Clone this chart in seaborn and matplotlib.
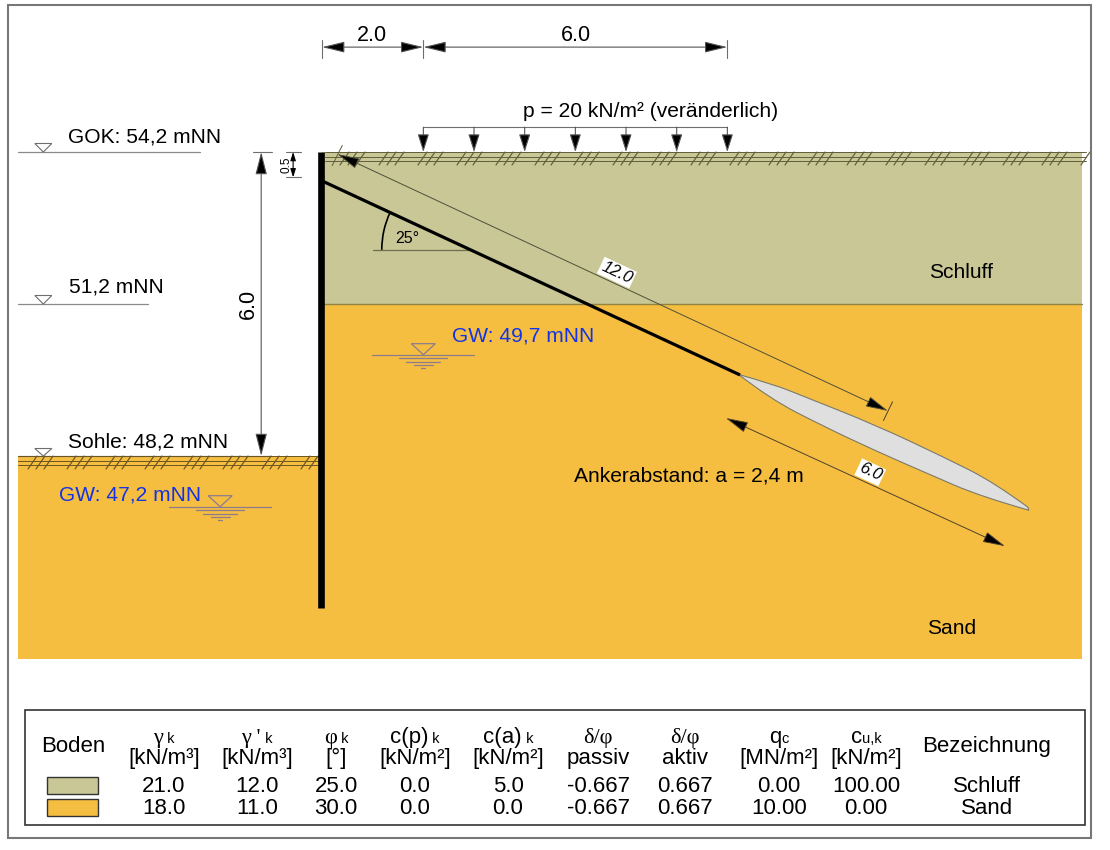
"""Spundwand mit Verpressanker: Systemskizze mit Bodenkennwerten."""

import matplotlib.pyplot as plt
import numpy as np
import seaborn as sns
from matplotlib.patches import Arc, PathPatch, Polygon, Rectangle
from matplotlib.path import Path

# Levels in mNN, distances in m from the wall
GOK = 54.2
MID_LEVEL = 51.2
SOHLE = 48.2
LAYER_TOP = 51.2
WALL_TIP = 45.2
MODEL_BOTTOM = 44.2
MODEL_LEFT = -6.0
MODEL_RIGHT = 15.0
GW_RIGHT_MARK = 50.2
GW_LEFT_MARK = 47.2

DIM_TOP = [0.0, 2.0, 8.0]
LOAD_X = [2.0, 3.0, 4.0, 5.0, 6.0, 7.0, 8.0]

# Anchor
ANCHOR_X = [0.0, 8.25]
ANCHOR_Y = [53.63, 49.80]
BODY_UPPER_X = [8.22, 8.90, 9.55, 10.93, 12.31, 13.28, 13.93]
BODY_UPPER_Y = [49.81, 49.62, 49.36, 48.81, 48.16, 47.67, 47.19]
BODY_LOWER_X = [13.95, 13.00, 11.96, 10.93, 9.89, 8.84, 8.22]
BODY_LOWER_Y = [47.13, 47.40, 47.85, 48.30, 48.79, 49.33, 49.81]
DIM_FREE_X = [0.30, 11.17]
DIM_FREE_Y = [54.16, 49.09]
DIM_BODY_X = [7.97, 13.48]
DIM_BODY_Y = [48.95, 46.42]

# Soil table
SOIL_NAMES = ["Schluff", "Sand"]
SOIL_COLORS = ["#C8C795", "#F6BE41"]
HEAD_SYMBOL = ["γ", "γ '", "φ", "c(p)", "c(a)", "δ/φ", "δ/φ", "q", "c"]
HEAD_SUB = [" k", " k", " k", " k", " k", "", "", "c", "u,k"]
HEAD_UNIT = ["[kN/m³]", "[kN/m³]", "[°]", "[kN/m²]", "[kN/m²]", "passiv", "aktiv", "[MN/m²]", "[kN/m²]"]
SCHLUFF_ROW = ["21.0", "12.0", "25.0", "0.0", "5.0", "-0.667", "0.667", "0.00", "100.00"]
SAND_ROW = ["18.0", "11.0", "30.0", "0.0", "0.0", "-0.667", "0.667", "10.00", "0.00"]
COLUMN_X = [164, 257, 336, 415, 508, 598, 685, 779, 866]

PX = 50.67  # pixels per metre
BLUE = "#1234E6"
GRAY = "#6E6E6E"
WATER = "#8C7C8C"
FS = 15.1
FS_TAB = 16

sns.set_theme(style="white")
plt.rcParams["font.family"] = ["Liberation Sans", "DejaVu Sans"]
plt.rcParams["text.color"] = "black"

fig = plt.figure(figsize=(11.1, 8.5), dpi=100)
ax = fig.add_axes([0, 0, 1, 1])
ax.set_xlim(-322 / PX, (1110 - 322) / PX)
ax.set_ylim(GOK - (850 - 152) / PX, GOK + 152 / PX)
ax.axis("off")

tab = fig.add_axes([0, 0, 1, 1], facecolor="none")
tab.set_xlim(0, 1110)
tab.set_ylim(850, 0)
tab.axis("off")


def line(xs, ys, color=GRAY, lw=0.8, zorder=3, **kwargs):
    sns.lineplot(x=xs, y=ys, ax=ax, color=color, linewidth=lw, estimator=None,
                 sort=False, legend=False, zorder=zorder, **kwargs)


def dim_arrow(xs, ys, style="<|-|>", length=14, half=3.4, lw=0.8, color="#555555"):
    ax.annotate("", xy=(xs[1], ys[1]), xytext=(xs[0], ys[0]), zorder=6,
                arrowprops=dict(arrowstyle=f"{style},head_length={length},head_width={half}",
                                mutation_scale=1, shrinkA=0, shrinkB=0, lw=lw,
                                edgecolor=color, facecolor="black"))


def ground(x0, x1, level, color, first):
    for off in (0, 4.5, 8.5):
        line([x0, x1], [level - off / PX] * 2, color=color, lw=0.7, zorder=4)
    for start in np.arange(first, x1, 39 / PX):
        for k in range(3):
            xb = start + k * 8 / PX
            xt = xb + 9 / PX
            if xb < x0 or xt > x1 + 0.08:
                continue
            ax.plot([xb, xt], [level - 13 / PX, level], color=color, lw=0.85, zorder=4)


def level_mark(x0, x1, level, xtri=-5.5, half=8.5, height=8.5):
    line([x0, x1], [level, level], color="#8A8A8A", lw=0.9)
    ax.add_patch(Polygon([(xtri - half / PX, level + height / PX), (xtri + half / PX, level + height / PX),
                          (xtri, level)], facecolor="white", edgecolor=GRAY, lw=0.8, zorder=5))


def water_mark(xc, level, half_line, half_tri=12):
    line([xc - half_line / PX, xc + half_line / PX], [level, level], color=WATER, lw=0.9, zorder=5)
    for drop, half in zip((3.5, 7, 10.5, 13.5), (24, 17, 9.5, 2)):
        line([xc - half / PX, xc + half / PX], [level - drop / PX] * 2, color=WATER, lw=0.9, zorder=5)
    ax.add_patch(Polygon([(xc - half_tri / PX, level + 11 / PX), (xc + half_tri / PX, level + 11 / PX),
                          (xc, level)], facecolor="none", edgecolor=WATER, lw=0.9, zorder=5))


def smooth_outline(xs, ys):
    # quadratic curve pieces through the midpoints of the read outline, one side after the other
    pts = list(zip(xs, ys))
    verts, codes = [pts[0]], [Path.MOVETO]
    n = len(pts) // 2
    for side in (pts[:n], pts[n:]):
        if side is not pts[:n]:
            verts.append(side[0])
            codes.append(Path.LINETO)
        for a, b in zip(side[1:-1], side[2:]):
            end = b if b == side[-1] else ((a[0] + b[0]) / 2, (a[1] + b[1]) / 2)
            verts += [a, end]
            codes += [Path.CURVE3, Path.CURVE3]
    verts.append(pts[0])
    codes.append(Path.CLOSEPOLY)
    return Path(verts, codes)


# Soil
ax.fill_between([0, MODEL_RIGHT], LAYER_TOP, GOK, color=SOIL_COLORS[0], lw=0, zorder=1)
ax.fill_between([0, MODEL_RIGHT], MODEL_BOTTOM, LAYER_TOP, color=SOIL_COLORS[1], lw=0, zorder=1)
ax.fill_between([MODEL_LEFT, 0], MODEL_BOTTOM, SOHLE, color=SOIL_COLORS[1], lw=0, zorder=1)
line([0, MODEL_RIGHT], [LAYER_TOP, LAYER_TOP], color="#8F8440", lw=1.0, zorder=2)

ground(0.05, MODEL_RIGHT + 0.08, GOK, "#5F5E3C", 18 / PX)
ground(MODEL_LEFT, -0.05, SOHLE, "#6A5420", -294 / PX)

# Levels on the left
level_mark(MODEL_LEFT, -2.4, GOK)
level_mark(MODEL_LEFT, -3.43, MID_LEVEL)
level_mark(MODEL_LEFT, -1.0, SOHLE, height=7.5)
water_mark(-2.01, GW_LEFT_MARK, 51)
water_mark(2.0, GW_RIGHT_MARK, 51)

# Wall, anchor, grout body
line([-0.02, -0.02], [GOK, WALL_TIP], color="black", lw=4.8, zorder=7, solid_capstyle="butt")
line(ANCHOR_X, ANCHOR_Y, color="black", lw=2.3, zorder=6, solid_capstyle="butt")
ax.add_patch(PathPatch(smooth_outline(BODY_UPPER_X + BODY_LOWER_X, BODY_UPPER_Y + BODY_LOWER_Y),
                       facecolor="#DFDFDF", edgecolor="#7A7A6A", lw=0.8, zorder=5))

# Angle
apex = (ANCHOR_X[0] + (ANCHOR_Y[0] - 52.27) / np.tan(np.radians(25)), 52.27)
line([1.0, apex[0]], [apex[1], apex[1]], color="#6F6E50", lw=0.9)
ax.add_patch(Arc(apex, 2 * 88 / PX, 2 * 88 / PX, theta1=155, theta2=180, color="black", lw=1.2, zorder=6))
ax.text(1.68, 52.5, "25°", fontsize=11.5, ha="center", va="center", zorder=8)

# Dimensions
for x in DIM_TOP:
    line([x, x], [56.05, 56.41], color=GRAY, lw=0.8)
dim_arrow(DIM_TOP[:2], [56.27, 56.27])
dim_arrow(DIM_TOP[1:], [56.27, 56.27])
ax.text(0.98, 56.5, "2.0", fontsize=15.5, ha="center", va="center")
ax.text(5.02, 56.5, "6.0", fontsize=15.5, ha="center", va="center")

dim_arrow([-1.2, -1.2], [GOK, SOHLE], length=14, half=3.6)
line([-1.36, -0.99], [GOK, GOK], color=GRAY, lw=0.8)
ax.text(-1.46, 51.2, "6.0", fontsize=15.5, rotation=90, ha="center", va="center", zorder=8,
        bbox=dict(facecolor="white", edgecolor="none", pad=1))

dim_arrow([-0.57, -0.57], [GOK, GOK - 0.5], length=5, half=1.6, color="black")
line([-0.71, -0.41], [GOK, GOK], color=GRAY, lw=0.8)
line([-0.71, -0.41], [GOK - 0.5, GOK - 0.5], color=GRAY, lw=0.8)
ax.text(-0.71, GOK - 0.25, "0.5", fontsize=8.5, rotation=90, ha="center", va="center")

# Surcharge
line([LOAD_X[0], LOAD_X[-1]], [GOK + 0.49, GOK + 0.49], color=GRAY, lw=0.8, zorder=4)
for x in LOAD_X:
    dim_arrow([x, x], [GOK + 0.49, GOK], style="-|>", length=11, half=3.5)
ax.text(6.48, 55.0, "p = 20 kN/m² (veränderlich)", fontsize=FS, ha="center", va="center")

# Anchor dimensions
dim_arrow(DIM_FREE_X, DIM_FREE_Y, lw=0.7, color="#4F4F3A")
dim_arrow(DIM_BODY_X, DIM_BODY_Y, lw=0.7, color="#4F4030")
line([0.20, 0.40], [53.93, 54.33], color="#5F5E3C", lw=0.7, zorder=6)
line([11.08, 11.26], [48.90, 49.27], color="#4F4030", lw=0.7, zorder=6)
for x, y, label in [(5.82, 51.82, "12.0"), (10.82, 47.88, "6.0")]:
    ax.text(x, y, label, fontsize=12, style="italic", rotation=-25, rotation_mode="anchor",
            ha="center", va="center", zorder=8,
            bbox=dict(facecolor="white", edgecolor="none", pad=1.2))

# Labels
ax.text(-5.02, GOK + 0.29, "GOK: 54,2 mNN", fontsize=FS, va="center")
ax.text(-4.99, MID_LEVEL + 0.33, "51,2 mNN", fontsize=FS, va="center")
ax.text(-5.02, SOHLE + 0.28, "Sohle: 48,2 mNN", fontsize=FS, va="center")
ax.text(-5.2, 47.43, "GW: 47,2 mNN", fontsize=FS, color=BLUE, va="center", zorder=8)
ax.text(2.56, 50.56, "GW: 49,7 mNN", fontsize=FS, color=BLUE, va="center", zorder=8)
ax.text(12.61, 51.83, "Schluff", fontsize=FS, ha="center", va="center", zorder=8)
ax.text(12.43, 44.8, "Sand", fontsize=FS, ha="center", va="center", zorder=8)
ax.text(4.98, 47.81, "Ankerabstand: a = 2,4 m", fontsize=FS, va="center", zorder=8)

# Outer frame and table box
tab.add_patch(Rectangle((8, 5), 1083, 833, fill=False, edgecolor="#777777", lw=1.5))
tab.add_patch(Rectangle((25, 710), 1060, 115, fill=False, edgecolor="#333333", lw=1.2))

renderer = fig.canvas.get_renderer()


def header_cell(x, y, symbol, sub):
    serif = symbol in ("γ", "γ '", "φ", "δ/φ")
    family = "Liberation Serif" if serif else "Liberation Sans"
    main = tab.text(x, y, symbol, fontsize=FS_TAB, family=family, ha="left", va="baseline")
    small = tab.text(x, y, sub, fontsize=10.5, ha="left", va="baseline")
    w_main = main.get_window_extent(renderer).width
    w_small = small.get_window_extent(renderer).width if sub else 0
    start = x - (w_main + w_small) / 2
    main.set_x(start)
    small.set_x(start + w_main)


tab.text(73, 752, "Boden", fontsize=FS_TAB, ha="center", va="baseline")
tab.text(987, 752, "Bezeichnung", fontsize=FS_TAB, ha="center", va="baseline")
for i, x in enumerate(COLUMN_X):
    header_cell(x, 743, HEAD_SYMBOL[i], HEAD_SUB[i])
    tab.text(x, 764, HEAD_UNIT[i], fontsize=FS_TAB, ha="center", va="baseline")
    tab.text(x, 792, SCHLUFF_ROW[i], fontsize=FS_TAB, ha="center", va="baseline")
    tab.text(x, 814, SAND_ROW[i], fontsize=FS_TAB, ha="center", va="baseline")

for y, name, color in zip((785, 807), SOIL_NAMES, SOIL_COLORS):
    tab.add_patch(Rectangle((47, y - 8.5), 51, 17, facecolor=color, edgecolor="#333333", lw=1.0))
    tab.text(987, y + 7, name, fontsize=FS_TAB, ha="center", va="baseline")

fig.savefig("out.png", dpi=100)
